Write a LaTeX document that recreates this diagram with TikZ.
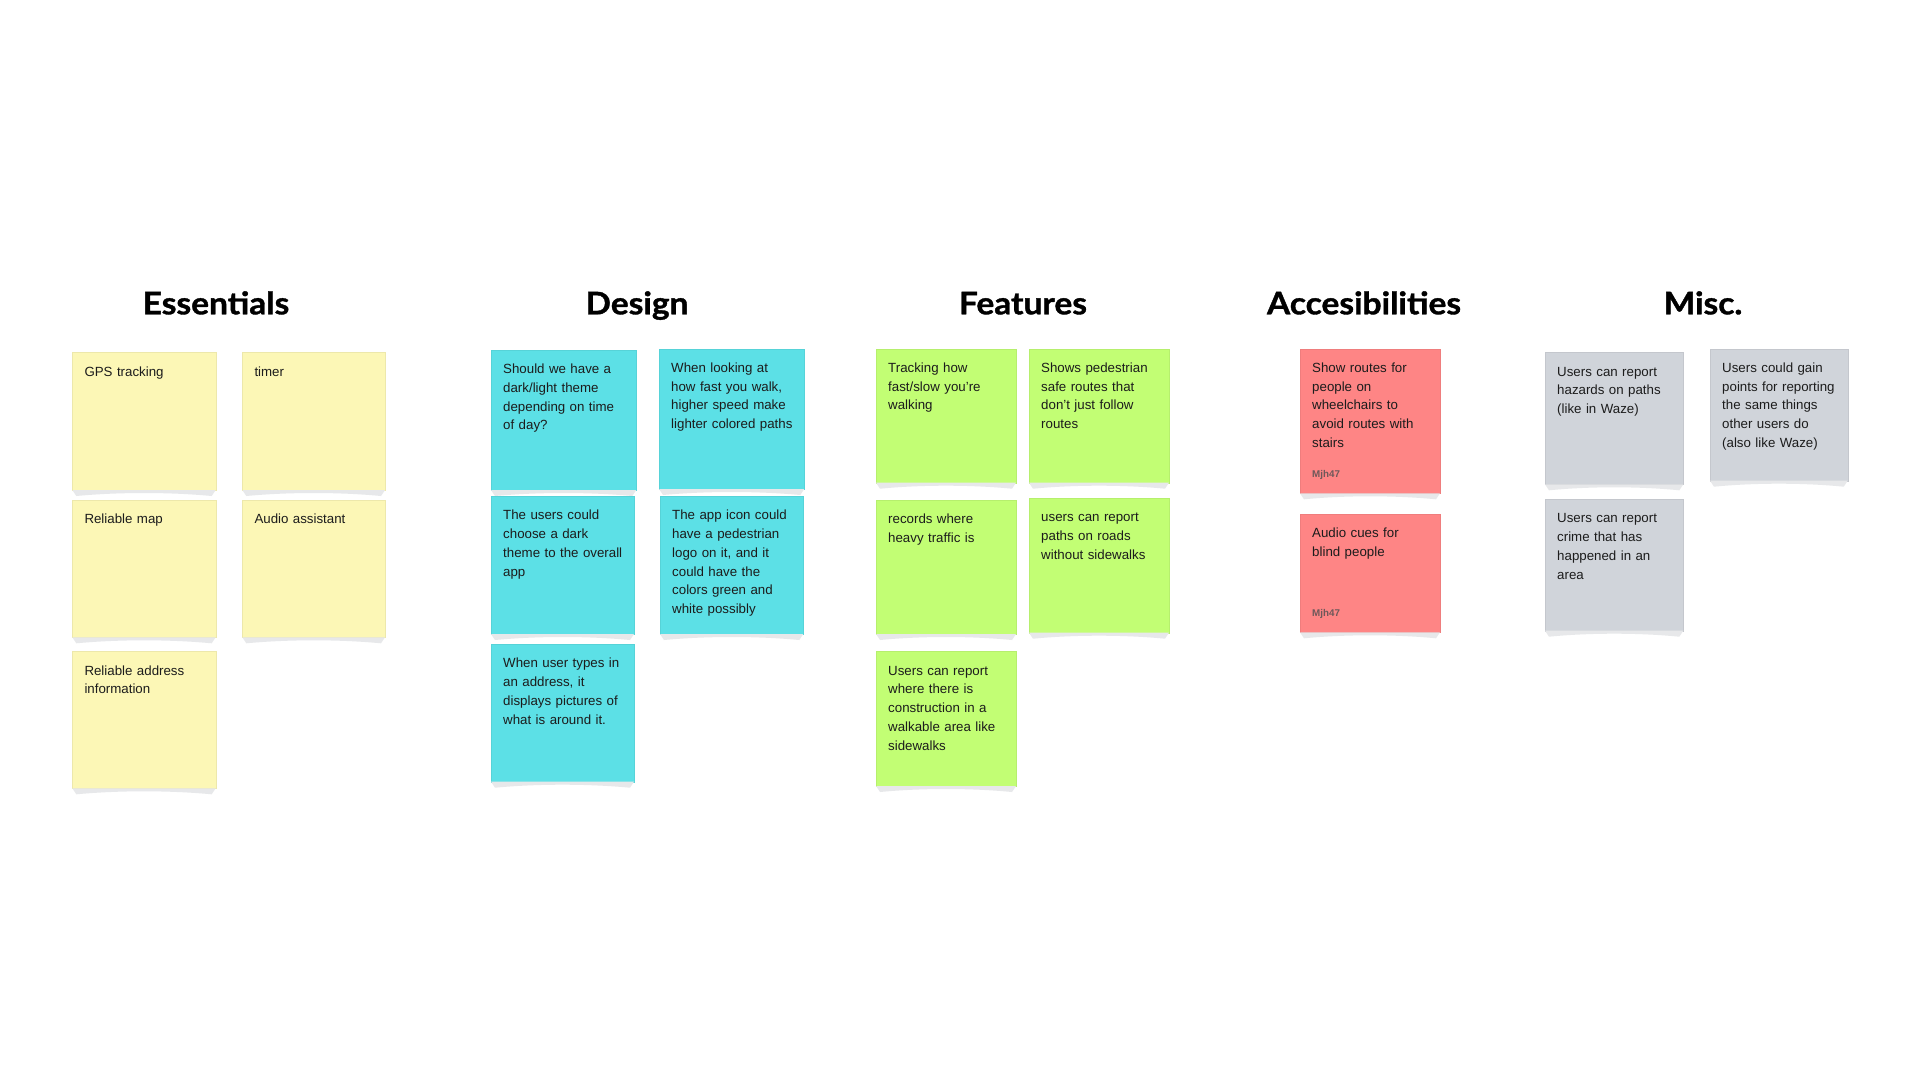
\documentclass[tikz,border=0pt]{standalone}
\usepackage{fontspec}
\setmainfont{Liberation Sans}
\newfontfamily\headfont{Lato}[FakeStretch=1.08, FakeBold=1.2]
\usetikzlibrary{calc}

\definecolor{stickyyellow}{HTML}{FCF7B6}
\definecolor{stickycyan}{HTML}{5CE0E6}
\definecolor{stickygreen}{HTML}{C2FE74}
\definecolor{stickyred}{HTML}{FE8585}
\definecolor{stickygray}{HTML}{D0D4DA}
\definecolor{shadowgray}{HTML}{E7E8EA}
\definecolor{notetext}{HTML}{1C1C1C}
\definecolor{authortext}{HTML}{6E585A}

\tikzset{
  heading/.style={font=\headfont\bfseries\fontsize{31}{36}\selectfont, anchor=base, inner sep=0pt},
  notebox/.style={anchor=north west, inner sep=0pt, outer sep=0pt, draw=#1!94!black, line width=0.4pt, fill=#1},
  notetext/.style={anchor=north west, inner sep=0pt, text width=132pt, align=left,
    font=\fontsize{13.3}{18.7}\selectfont, text=notetext},
  noteshadow/.style={fill=shadowgray},
  author/.style={anchor=base west, inner sep=0pt, font=\bfseries\fontsize{9.8}{11}\selectfont, text=authortext}
}

% A sticky note: name, colour, left, top, right, bottom, text
\newcommand\stickynote[7]{%
  \node[notebox=#2, minimum width={#5-#3}, minimum height={#6-#4}] (#1) at (#3,#4) {};
  \fill[noteshadow] (#1.south west) -- ($(#1.south west)+(4,6)$)
    .. controls ($(#1.south)+(-25,2)$) and ($(#1.south)+(25,2)$) .. ($(#1.south east)+(-4,6)$)
    -- (#1.south east) -- cycle;
  \node[notetext] (#1-text) at ($(#1.north west)+(12,10.6)$) {\strut #7};
}

\begin{document}
\begin{tikzpicture}[x=1pt,y=-1pt]
  \fill[white] (0,0) rectangle (1920,1080);
  \useasboundingbox (0,0) rectangle (1920,1080);

  % column headings
  \node[heading] (essentials) at (216,314.3) {Essentials};
  \node[heading] (design) at (637,314.3) {Design};
  \node[heading] (features) at (1023,314.3) {Features};
  \node[heading] (access) at (1364,314.3) {Accesibilities};
  \node[heading] (misc) at (1703,314.3) {Misc.};

  % Essentials
  \stickynote{e1}{stickyyellow}{72.3}{352.3}{215.7}{490}{GPS tracking}
  \stickynote{e2}{stickyyellow}{242.3}{352.3}{385}{490}{timer}
  \stickynote{e3}{stickyyellow}{72.3}{500}{215.7}{637.3}{Reliable map}
  \stickynote{e4}{stickyyellow}{242.3}{500}{385}{637.3}{Audio assistant}
  \stickynote{e5}{stickyyellow}{72.3}{651.3}{215.7}{788.3}{Reliable address\\information}

  % Design
  \stickynote{d1}{stickycyan}{491}{350}{636.3}{490}{Should we have a\\dark/light theme\\depending on time\\of day?}
  \stickynote{d2}{stickycyan}{659}{348.7}{804.3}{489}{When looking at\\how fast you walk,\\higher speed make\\lighter colored paths}
  \stickynote{d3}{stickycyan}{491}{496}{634}{634}{The users could\\choose a dark\\theme to the overall\\app}
  \stickynote{d4}{stickycyan}{660}{496}{803.3}{634}{The app icon could\\have a pedestrian\\logo on it, and it\\could have the\\colors green and\\white possibly}
  \stickynote{d5}{stickycyan}{491}{644}{634}{781.7}{When user types in\\an address, it\\displays pictures of\\what is around it.}

  % Features
  \stickynote{f1}{stickygreen}{876}{348.7}{1016}{482.7}{Tracking how\\fast/slow you’re\\walking}
  \stickynote{f2}{stickygreen}{1029}{348.7}{1169}{482.7}{Shows pedestrian\\safe routes that\\don’t just follow\\routes}
  \stickynote{f3}{stickygreen}{876}{500}{1016}{634}{records where\\heavy traffic is}
  \stickynote{f4}{stickygreen}{1029}{498}{1169}{632.7}{users can report\\paths on roads\\without sidewalks}
  \stickynote{f5}{stickygreen}{876}{651.3}{1016}{786}{Users can report\\where there is\\construction in a\\walkable area like\\sidewalks}

  % Accesibilities
  \stickynote{a1}{stickyred}{1300}{348.7}{1440}{493.3}{Show routes for\\people on\\wheelchairs to\\avoid routes with\\stairs}
  \node[author] (a1-author) at ($(a1.south west)+(12,-16)$) {Mjh47};
  \stickynote{a2}{stickyred}{1300}{514}{1440}{632.3}{Audio cues for\\blind people}
  \node[author] (a2-author) at ($(a2.south west)+(12,-15.6)$) {Mjh47};

  % Misc.
  \stickynote{m1}{stickygray}{1545}{352.3}{1683.3}{484.3}{Users can report\\hazards on paths\\(like in Waze)}
  \stickynote{m2}{stickygray}{1710}{348.7}{1847.7}{480.7}{Users could gain\\points for reporting\\the same things\\other users do\\(also like Waze)}
  \stickynote{m3}{stickygray}{1545}{499}{1683.3}{630.7}{Users can report\\crime that has\\happened in an\\area}
\end{tikzpicture}
\end{document}
